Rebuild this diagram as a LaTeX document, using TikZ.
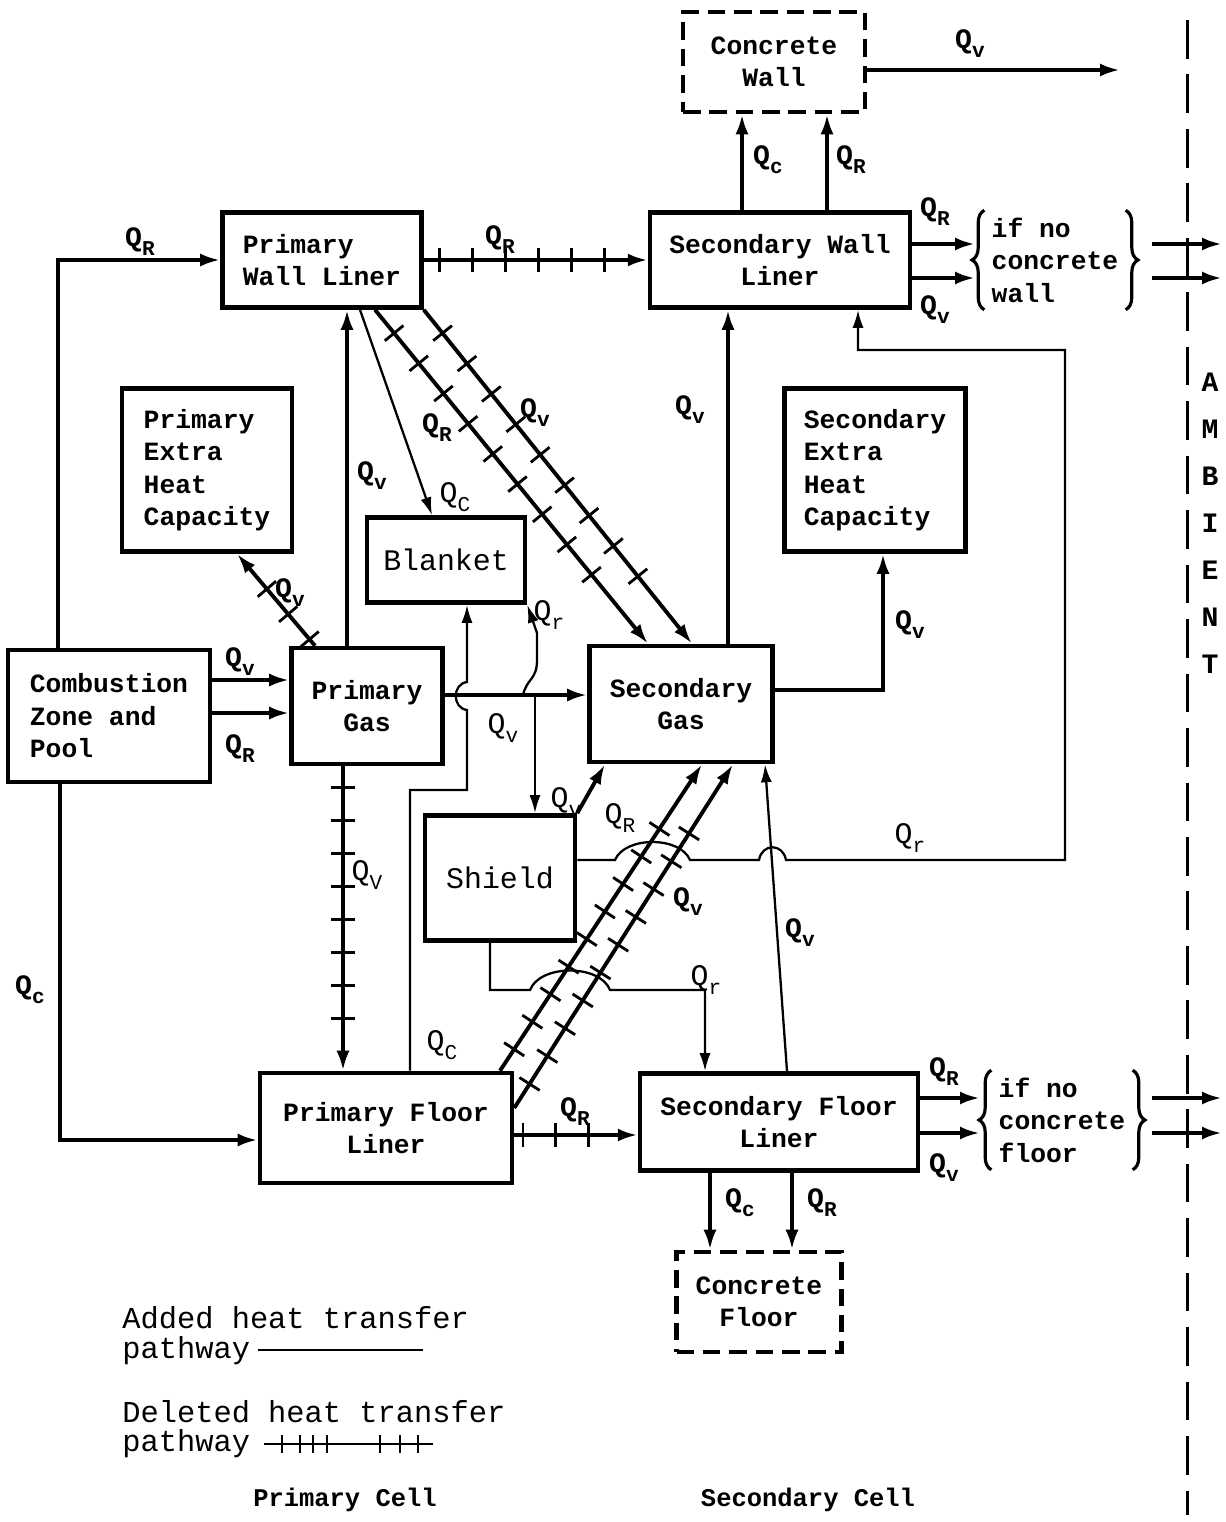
\documentclass[tikz,border=0pt]{standalone}
\usepackage{fontspec}
\setmonofont{Liberation Mono}
\usetikzlibrary{arrows.meta, decorations.markings, decorations.pathreplacing}

\newcommand{\Qs}[1]{Q\raisebox{-0.6ex}{\fontsize{12}{12}\selectfont #1}}

\begin{document}
\begin{tikzpicture}[x=0.02cm, y=-0.02cm,
    caja/.style={draw, line width=2.6pt, align=center, inner sep=3pt,
      font=\ttfamily\bfseries\fontsize{15}{18.5}\selectfont},
    cajaizq/.style={caja, align=left},
    cajalig/.style={caja, font=\ttfamily\fontsize{17}{20}\selectfont},
    punteada/.style={caja, dash pattern=on 10pt off 5pt},
    flujo/.style={line width=2.2pt, -{Latex[length=0.4cm, width=0.26cm]}},
    fino/.style={line width=1.3pt, -{Latex[length=0.36cm, width=0.22cm]}},
    borrado/.style={flujo, postaction={decorate}, decoration={markings,
      mark=between positions 0.07 and 0.84 step #1 with {\draw[-, line width=1.6pt] (0,-12) -- (0,12);}}},
    borrado/.default=0.66cm,
    etq/.style={font=\ttfamily\bfseries\fontsize{16}{16}\selectfont, inner sep=0pt},
    etqfina/.style={font=\ttfamily\fontsize{17}{17}\selectfont, inner sep=0pt},
    leyenda/.style={font=\ttfamily\fontsize{17.3}{20}\selectfont, inner sep=0pt, anchor=base west},
    llave/.style={decorate, decoration={brace, amplitude=7pt}, line width=1.8pt},
    ambiente/.style={line width=1.7pt, dash pattern=on 22pt off 9pt}
  ]
  \useasboundingbox (0,0) rectangle (1225,1522);

  % Cajas
  \node[punteada, minimum width=3.64cm, minimum height=2cm] (muro) at (774,62) {Concrete\\Wall};
  \node[cajaizq, minimum width=3.98cm, minimum height=1.9cm] (pwl) at (322,260) {Primary\\Wall Liner};
  \node[caja, minimum width=5.2cm, minimum height=1.9cm] (swl) at (780,260) {Secondary Wall\\Liner};
  \node[cajaizq, minimum width=3.4cm, minimum height=3.26cm] (pehc) at (207,470) {Primary\\Extra\\Heat\\Capacity};
  \node[cajaizq, minimum width=3.62cm, minimum height=3.26cm] (sehc) at (875,470) {Secondary\\Extra\\Heat\\Capacity};
  \node[cajalig, minimum width=3.16cm, minimum height=1.7cm] (manta) at (446,560) {Blanket};
  \node[cajaizq, minimum width=4.04cm, minimum height=2.64cm] (comb) at (109,716) {Combustion\\Zone and\\Pool};
  \node[caja, minimum width=3.02cm, minimum height=2.32cm] (pg) at (367,706) {Primary\\Gas};
  \node[caja, minimum width=3.66cm, minimum height=2.32cm] (sg) at (681,704) {Secondary\\Gas};
  \node[cajalig, minimum width=3cm, minimum height=2.5cm] (escudo) at (500,878) {Shield};
  \node[caja, minimum width=5.04cm, minimum height=2.2cm] (pfl) at (386,1128) {Primary Floor\\Liner};
  \node[caja, minimum width=5.56cm, minimum height=1.94cm] (sfl) at (779,1122) {Secondary Floor\\Liner};
  \node[punteada, minimum width=3.3cm, minimum height=2cm] (piso) at (759,1302) {Concrete\\Floor};

  % Llaves
  \node[etq, align=left, inner sep=4pt, font=\ttfamily\bfseries\fontsize{15}{18.5}\selectfont] (sinmuro) at (1055,260) {if no\\concrete\\wall};
  \draw[llave] (sinmuro.south west) -- (sinmuro.north west);
  \draw[llave] (sinmuro.north east) -- (sinmuro.south east);
  \node[etq, align=left, inner sep=4pt, font=\ttfamily\bfseries\fontsize{15}{18.5}\selectfont] (sinpiso) at (1062,1120) {if no\\concrete\\floor};
  \draw[llave] (sinpiso.south west) -- (sinpiso.north west);
  \draw[llave] (sinpiso.north east) -- (sinpiso.south east);

  % Ambiente
  \coordinate (ambarriba) at (1187,20);
  \coordinate (ambabajo) at (1187,1515);
  \draw[ambiente] (ambarriba) -- (ambabajo);
  \foreach \l [count=\i] in {A,M,B,I,E,N,T}
    \node[etq] (amb\i) at (1210,335+47*\i) {\l};

  % Combustion
  \draw[flujo] (comb.north -| 58,0) |- (pwl.west);
  \node[etq] (q1) at (140,242) {\Qs{R}};
  \draw[flujo] (comb.south -| 60,0) |- (pfl.west |- 0,1140);
  \node[etq] (q2) at (30,990) {\Qs{c}};
  \draw[flujo] (comb.east |- 0,680) -- (pg.west |- 0,680);
  \node[etq] (q3) at (240,662) {\Qs{v}};
  \draw[flujo] (comb.east |- 0,713) -- (pg.west |- 0,713);
  \node[etq] (q4) at (240,749) {\Qs{R}};

  % Pared primaria y secundaria
  \draw[borrado] (pwl.east) -- (swl.west);
  \node[etq] (q5) at (500,240) {\Qs{R}};
  \draw[flujo] (swl.north -| 742,0) -- (muro.south -| 742,0);
  \node[etq] (q6) at (768,160) {\Qs{c}};
  \draw[flujo] (swl.north -| 827,0) -- (muro.south -| 827,0);
  \node[etq] (q7) at (851,160) {\Qs{R}};
  \coordinate (murofuera) at (1120,70);
  \draw[flujo] (muro.east |- murofuera) -- (murofuera);
  \node[etq] (q8) at (970,44) {\Qs{v}};
  \coordinate (swlfuera1) at (975,244);
  \coordinate (swlfuera2) at (975,278);
  \draw[flujo] (swl.east |- swlfuera1) -- (swlfuera1);
  \draw[flujo] (swl.east |- swlfuera2) -- (swlfuera2);
  \node[etq] (q9) at (935,212) {\Qs{R}};
  \node[etq] (q10) at (935,310) {\Qs{v}};
  \coordinate (ambm1) at (1152,244);
  \coordinate (ambm2) at (1222,244);
  \coordinate (ambm3) at (1152,278);
  \coordinate (ambm4) at (1222,278);
  \draw[flujo] (ambm1) -- (ambm2);
  \draw[flujo] (ambm3) -- (ambm4);

  % Gas primario
  \draw[flujo] (pg.north -| 347,0) -- (pwl.south -| 347,0);
  \node[etq] (q11) at (372,476) {\Qs{v}};
  \draw[fino] (pwl.south -| 360,0) -- (manta.north -| 432,0);
  \node[etqfina] (q12) at (455,497) {\Qs{C}};
  \draw[borrado=0.78cm] (pwl.south -| 375,0) -- (sg.north -| 648,0);
  \draw[borrado=0.78cm] (pwl.south east) -- (sg.north -| 692,0);
  \node[etq] (q13) at (437,428) {\Qs{R}};
  \node[etq] (q14) at (535,413) {\Qs{v}};
  \draw[borrado] (pg.north -| 315,0) -- (pehc.south -| 237,0);
  \node[etq] (q15) at (290,593) {\Qs{v}};
  \draw[borrado] (pg.south -| 343,0) -- (pfl.north -| 343,0);
  \node[etqfina] (q16) at (367,875) {\Qs{V}};
  \draw[flujo] (pg.east |- 0,695) -- (sg.west |- 0,695);

  % Manta y escudo
  \coordinate (nudo) at (535,695);
  \draw[fino] (nudo) -- (escudo.north -| nudo);
  \node[etqfina] (q17) at (503,728) {\Qs{v}};
  \draw[fino] (523,695) .. controls (527,678) and (537,680) .. (537,660) -- (537,633) -- (manta.south east);
  \node[etqfina] (q18) at (549,615) {\Qs{r}};
  \draw[fino] (pfl.north -| 410,0) -- (410,790) -- (467,790) -- (467,710)
    .. controls (452,708) and (452,684) .. (467,682) -- (manta.south -| 467,0);
  \node[etqfina] (q19) at (442,1045) {\Qs{C}};
  \draw[flujo] (escudo.north east) -- (sg.south -| 605,0);
  \node[etqfina] (q20) at (566,802) {\Qs{v}};

  % Piso primario
  \draw[borrado] (pfl.north -| 500,0) -- (sg.south -| 702,0);
  \draw[borrado] (pfl.east |- 0,1108) -- (sg.south -| 733,0);
  \node[etqfina] (q21) at (620,818) {\Qs{R}};
  \node[etq] (q22) at (688,902) {\Qs{v}};
  \draw[borrado] (pfl.east |- 0,1135) -- (sfl.west |- 0,1135);
  \node[etq] (q23) at (575,1112) {\Qs{R}};

  % Radiacion del escudo
  \draw[fino] (escudo.east |- 0,860) -- (615,860) .. controls (625,836) and (680,836) .. (690,860)
    -- (759,860) .. controls (762,843) and (783,843) .. (786,860) -- (1065,860) -- (1065,350)
    -- (858,350) -- (swl.south -| 858,0);
  \node[etqfina] (q24) at (910,838) {\Qs{r}};
  \draw[fino] (escudo.south -| 490,0) -- (490,990) -- (530,990) .. controls (540,964) and (600,964) .. (610,990)
    -- (705,990) -- (sfl.north -| 705,0);
  \node[etqfina] (q25) at (706,980) {\Qs{r}};

  % Gas secundario
  \draw[fino] (sfl.north -| 787,0) -- (sg.south -| 765,0);
  \node[etq] (q26) at (800,933) {\Qs{v}};
  \draw[flujo] (sg.north -| 728,0) -- (swl.south -| 728,0);
  \node[etq] (q27) at (690,410) {\Qs{v}};
  \draw[flujo] (sg.east |- 0,690) -| (sehc.south -| 883,0);
  \node[etq] (q28) at (910,625) {\Qs{v}};

  % Piso secundario
  \draw[flujo] (sfl.south -| 710,0) -- (piso.north -| 710,0);
  \node[etq] (q29) at (740,1203) {\Qs{c}};
  \draw[flujo] (sfl.south -| 792,0) -- (piso.north -| 792,0);
  \node[etq] (q30) at (822,1203) {\Qs{R}};
  \coordinate (sflfuera1) at (980,1098);
  \coordinate (sflfuera2) at (980,1133);
  \draw[flujo] (sfl.east |- sflfuera1) -- (sflfuera1);
  \draw[flujo] (sfl.east |- sflfuera2) -- (sflfuera2);
  \node[etq] (q31) at (944,1072) {\Qs{R}};
  \node[etq] (q32) at (944,1168) {\Qs{v}};
  \coordinate (ambm5) at (1152,1098);
  \coordinate (ambm6) at (1222,1098);
  \coordinate (ambm7) at (1152,1133);
  \coordinate (ambm8) at (1222,1133);
  \draw[flujo] (ambm5) -- (ambm6);
  \draw[flujo] (ambm7) -- (ambm8);

  % Leyenda
  \node[leyenda] (ley1) at (122,1328) {Added heat transfer};
  \node[leyenda] (ley2) at (122,1358) {pathway};
  \coordinate (ley2fin) at (423,1350);
  \draw[line width=1.6pt] (ley2.east |- ley2fin) ++(8,0) -- (ley2fin);
  \node[leyenda] (ley3) at (122,1422) {Deleted heat transfer};
  \node[leyenda] (ley4) at (122,1451) {pathway};
  \coordinate (ley4fin) at (433,1444);
  \draw[line width=1.6pt] (ley4.east |- ley4fin) ++(14,0) -- (ley4fin);
  \foreach \x in {282,300,313,327,380,400,418}
    \draw[line width=1.6pt] (\x,1435) -- (\x,1453);

  % Celdas
  \node[etq, font=\ttfamily\bfseries\fontsize{14.5}{16}\selectfont] (celda1) at (345,1500) {Primary Cell};
  \node[etq, font=\ttfamily\bfseries\fontsize{14.5}{16}\selectfont] (celda2) at (808,1500) {Secondary Cell};
\end{tikzpicture}
\end{document}
